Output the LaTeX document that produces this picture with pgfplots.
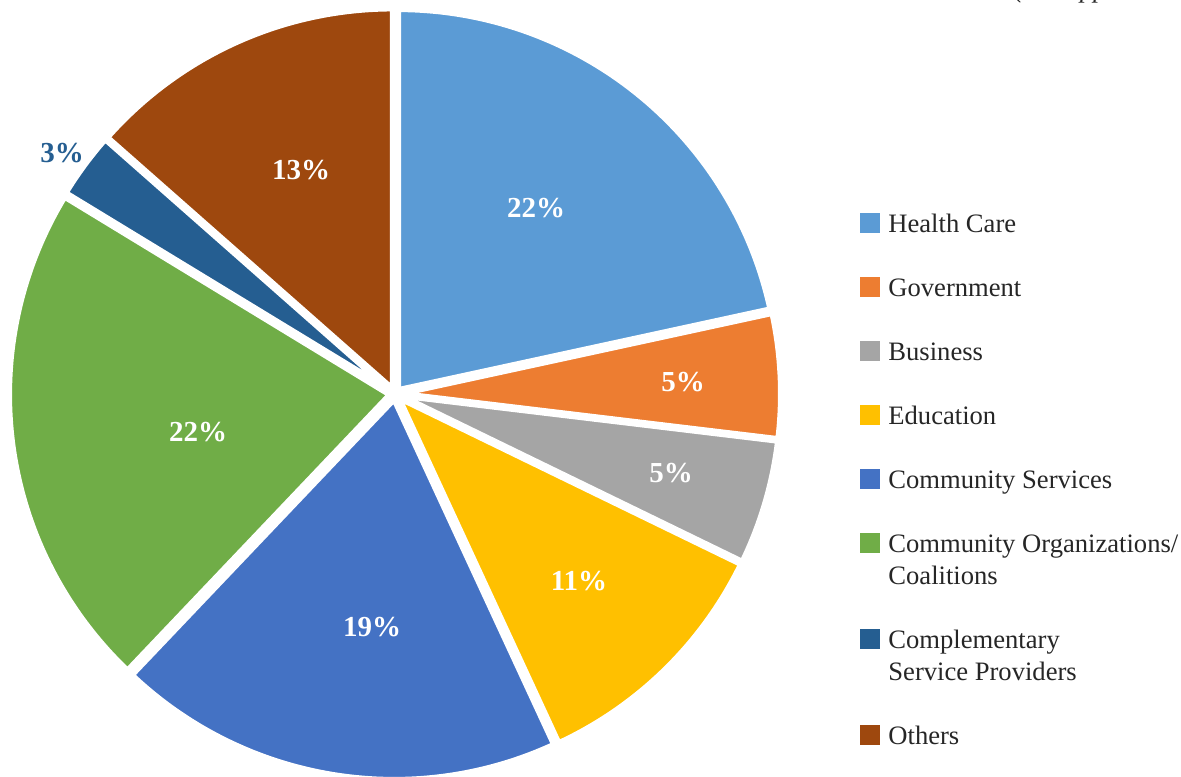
\documentclass[border=0pt]{standalone}
\usepackage{pgfplots}
\pgfplotsset{compat=1.18}
\usepackage{fontspec}
\setmainfont{Liberation Serif}

\definecolor{hc}{HTML}{5B9BD5}
\definecolor{gov}{HTML}{ED7D31}
\definecolor{bus}{HTML}{A5A5A5}
\definecolor{edu}{HTML}{FFC000}
\definecolor{cs}{HTML}{4472C4}
\definecolor{co}{HTML}{70AD47}
\definecolor{comp}{HTML}{255E91}
\definecolor{oth}{HTML}{9E480E}
\definecolor{txt}{HTML}{262626}

% one slice: start %, end % (cumulative), colour, exploded centre x, y (radius 381)
\newcommand\slice[5]{%
  \addplot[fill=#3, draw=white, line width=3pt, line join=round,
    domain=#1:#2, samples=90]
    ({#4+381*cos(90-3.6*x)},{#5+381*sin(90-3.6*x)}) -- (axis cs:#4,#5) -- cycle;
}

\begin{document}
\begin{tikzpicture}
\begin{axis}[
    scale only axis,
    width=590.5pt, height=388pt,
    xmin=0, xmax=1181, ymin=0, ymax=776,
    hide axis, clip=false,
  ]
  \coordinate (bl) at (axis cs:0,0);
  \coordinate (tr) at (axis cs:1181,776);

  % shares: 21.6, 5.3, 5.3, 10.9, 19.0, 21.6, 2.8, 13.5
  \slice{0}{21.6}{hc}{398.14}{385.89}
  \slice{21.6}{26.9}{gov}{399.99}{382.24}
  \slice{26.9}{32.2}{bus}{399.80}{380.59}
  \slice{32.2}{43.1}{edu}{398.50}{378.43}
  \slice{43.1}{62.1}{cs}{394.19}{377.07}
  \slice{62.1}{83.7}{co}{390.04}{381.34}
  \slice{83.7}{86.5}{comp}{390.98}{384.96}
  \slice{86.5}{100}{oth}{392.94}{386.56}

  % data labels
  \begin{scope}[every node/.style={font=\fontsize{14.5}{17}\selectfont\bfseries, text=white, inner sep=0}]
    \node at (axis cs:536,568) {22\%};
    \node at (axis cs:683,394) {5\%};
    \node at (axis cs:671,303) {5\%};
    \node at (axis cs:579,195) {11\%};
    \node at (axis cs:372,149) {19\%};
    \node at (axis cs:198,344) {22\%};
    \node at (axis cs:301,606) {13\%};
    \node[text=comp] at (axis cs:62,623) {3\%};
  \end{scope}

  % legend
  \begin{scope}[every node/.style={font=\fontsize{13.3}{16}\selectfont, text=txt, inner sep=0, anchor=base west}]
    \fill[hc]   (axis cs:860,543) rectangle (axis cs:880,563);
    \node at (axis cs:888,543.5) {Health Care};
    \fill[gov]  (axis cs:860,479) rectangle (axis cs:880,499);
    \node at (axis cs:888,479.5) {Government};
    \fill[bus]  (axis cs:860,415) rectangle (axis cs:880,435);
    \node at (axis cs:888,415.5) {Business};
    \fill[edu]  (axis cs:860,351) rectangle (axis cs:880,371);
    \node at (axis cs:888,351.5) {Education};
    \fill[cs]   (axis cs:860,287) rectangle (axis cs:880,307);
    \node at (axis cs:888,287.5) {Community Services};
    \fill[co]   (axis cs:860,223) rectangle (axis cs:880,243);
    \node at (axis cs:888,223.5) {Community Organizations/};
    \node at (axis cs:888,191.5) {Coalitions};
    \fill[comp] (axis cs:860,127) rectangle (axis cs:880,147);
    \node at (axis cs:888,127.5) {Complementary};
    \node at (axis cs:888,95.5) {Service Providers};
    \fill[oth]  (axis cs:860,31) rectangle (axis cs:880,51);
    \node at (axis cs:888,31.5) {Others};
  \end{scope}

  % cut-off note at the top edge
  \node[font=\fontsize{13.3}{16}\selectfont\itshape, text=txt, inner sep=0, anchor=base west]
    at (axis cs:1014,778) {(see Appendix};
\end{axis}
\pgfresetboundingbox
\path[use as bounding box] (bl) rectangle (tr);
\end{tikzpicture}
\end{document}
